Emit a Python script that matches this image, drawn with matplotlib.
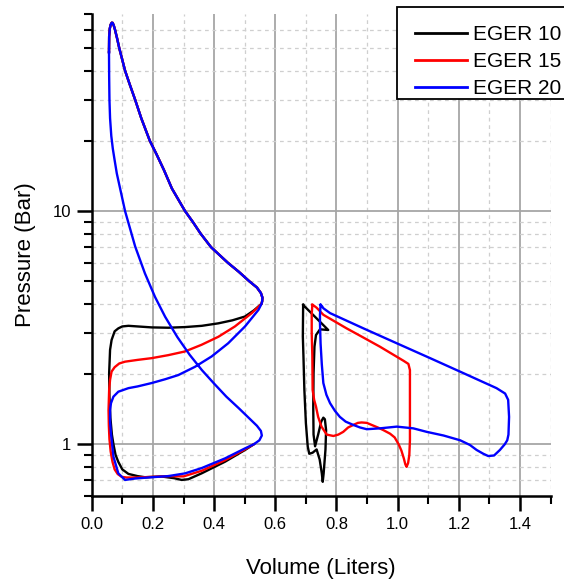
import matplotlib
matplotlib.use('Agg')
import matplotlib.pyplot as plt
from matplotlib.patches import Rectangle
from matplotlib.ticker import FixedLocator, FixedFormatter, NullFormatter, MultipleLocator

plt.rcParams['font.family'] = ['Liberation Sans', 'DejaVu Sans']

# ---------------- data (Volume in liters, Pressure in bar) ----------------
series_labels = ["EGER 10", "EGER 15", "EGER 20"]
series_colors = ["#000000", "#ff0000", "#0000ff"]

# shared expansion stroke (top of compression wall -> peak -> nose)
expansion_v = [0.0565, 0.057, 0.059, 0.062, 0.0655, 0.0685, 0.072, 0.076, 0.083, 0.090, 0.099,
               0.109, 0.124, 0.142, 0.162, 0.190, 0.212, 0.236, 0.262, 0.305, 0.330, 0.356,
               0.390, 0.445, 0.480, 0.515, 0.540, 0.553, 0.558, 0.557, 0.555]
expansion_p = [48, 56, 60.5, 63, 64.2, 64.1, 62.5, 60, 55, 50, 45,
               40, 35, 30, 25, 20, 17.5, 15, 12.5, 10, 9, 8,
               7, 6, 5.5, 5.0, 4.7, 4.45, 4.25, 4.1, 4.0]

# EGER 10 : left chamber return path
black_left_v = [0.555, 0.530, 0.501, 0.460, 0.414, 0.360, 0.305, 0.250, 0.196, 0.150, 0.120,
                0.100, 0.087, 0.075, 0.065, 0.060, 0.057, 0.058, 0.061, 0.066, 0.071, 0.078,
                0.087, 0.100, 0.120, 0.150, 0.174, 0.229, 0.270, 0.294, 0.316, 0.359, 0.436,
                0.501, 0.530]
black_left_p = [4.0, 3.75, 3.53, 3.4, 3.3, 3.22, 3.18, 3.16, 3.17, 3.2, 3.22,
                3.2, 3.14, 3.05, 2.8, 2.54, 2.02, 1.6, 1.3, 1.1, 1.0, 0.9,
                0.84, 0.78, 0.746, 0.73, 0.722, 0.727, 0.715, 0.703, 0.708, 0.75, 0.842,
                0.945, 1.0]

# EGER 15 : left chamber return path
red_left_v = [0.555, 0.523, 0.468, 0.414, 0.359, 0.305, 0.250, 0.196, 0.150, 0.109, 0.090,
              0.075, 0.065, 0.060, 0.057, 0.055, 0.056, 0.058, 0.062, 0.068, 0.075, 0.085,
              0.098, 0.114, 0.150, 0.200, 0.250, 0.300, 0.360, 0.436, 0.500, 0.530]
red_left_p = [4.0, 3.65, 3.2, 2.89, 2.67, 2.5, 2.41, 2.34, 2.3, 2.26, 2.22,
              2.14, 2.05, 1.89, 1.71, 1.4, 1.2, 1.05, 0.93, 0.84, 0.78, 0.745,
              0.725, 0.72, 0.72, 0.725, 0.73, 0.728, 0.77, 0.855, 0.95, 1.0]

# EGER 20 : left chamber return path (closes back up the wall)
blue_left_v = [0.555, 0.545, 0.501, 0.446, 0.392, 0.338, 0.283, 0.240, 0.196, 0.150, 0.120,
               0.087, 0.071, 0.063, 0.060, 0.060, 0.063, 0.071, 0.087, 0.109, 0.142, 0.196,
               0.250, 0.305, 0.359, 0.436, 0.501, 0.530, 0.548, 0.556, 0.553, 0.540, 0.510,
               0.480, 0.440, 0.400, 0.360, 0.320, 0.280, 0.240, 0.207, 0.174, 0.142, 0.109,
               0.082, 0.075, 0.069, 0.064, 0.060, 0.058, 0.057, 0.0565]
blue_left_p = [4.0, 3.77, 3.2, 2.71, 2.38, 2.15, 1.98, 1.9, 1.83, 1.77, 1.74,
               1.68, 1.6, 1.5, 1.4, 1.25, 1.11, 0.885, 0.75, 0.703, 0.713, 0.722,
               0.73, 0.75, 0.79, 0.87, 0.96, 1.0, 1.04, 1.09, 1.14, 1.2, 1.31,
               1.43, 1.6, 1.82, 2.08, 2.42, 2.88, 3.52, 4.28, 5.4, 7.05, 10,
               14.5, 16.5, 18.5, 21, 25, 30, 38, 48]

# right chamber loops
black_right_v = [0.691, 0.700, 0.773, 0.746, 0.733, 0.728, 0.725, 0.724, 0.725, 0.730, 0.740,
                 0.750, 0.757, 0.762, 0.766, 0.764, 0.758, 0.755, 0.752, 0.745, 0.735, 0.722,
                 0.711, 0.706, 0.700, 0.695, 0.692, 0.690, 0.691]
black_right_p = [3.96, 3.85, 3.09, 3.11, 2.94, 2.62, 2.02, 1.45, 1.1, 0.98, 1.1,
                 1.25, 1.3, 1.28, 1.15, 0.95, 0.75, 0.69, 0.75, 0.86, 0.95, 0.92,
                 0.91, 0.977, 1.23, 1.71, 2.38, 2.9, 3.96]

red_right_v = [0.721, 0.719, 0.719, 0.721, 0.722, 0.727, 0.733, 0.740, 0.751, 0.768, 0.790,
               0.806, 0.822, 0.838, 0.855, 0.870, 0.882, 0.899, 0.915, 0.935, 0.953, 0.975,
               0.990, 1.003, 1.012, 1.020, 1.025, 1.029, 1.034, 1.038, 1.040, 1.040, 1.040,
               1.040, 1.035, 1.019, 0.942, 0.877, 0.833, 0.757, 0.735, 0.726, 0.721]
red_right_p = [3.96, 3.6, 3.0, 2.4, 1.71, 1.55, 1.45, 1.31, 1.19, 1.10, 1.085,
               1.10, 1.13, 1.18, 1.21, 1.235, 1.24, 1.235, 1.21, 1.18, 1.15, 1.11,
               1.07, 1.0, 0.94, 0.87, 0.82, 0.80, 0.83, 0.9, 1.04, 1.45, 1.8,
               2.08, 2.21, 2.28, 2.62, 2.92, 3.14, 3.59, 3.85, 3.93, 3.96]

blue_right_v = [0.748, 0.746, 0.746, 0.748, 0.752, 0.757, 0.767, 0.779, 0.795, 0.811, 0.830,
                0.855, 0.877, 0.899, 0.942, 0.997, 1.051, 1.095, 1.150, 1.204, 1.236, 1.258,
                1.280, 1.296, 1.315, 1.334, 1.350, 1.358, 1.362, 1.364, 1.361, 1.351, 1.323,
                1.214, 1.106, 0.997, 0.888, 0.779, 0.757, 0.752, 0.748]
blue_right_p = [3.96, 3.6, 3.3, 2.7, 2.2, 1.83, 1.63, 1.50, 1.39, 1.31, 1.25,
                1.21, 1.18, 1.16, 1.17, 1.19, 1.17, 1.13, 1.09, 1.04, 0.993, 0.945,
                0.91, 0.89, 0.895, 0.945, 1.0, 1.04, 1.1, 1.31, 1.55, 1.65, 1.74,
                2.02, 2.34, 2.71, 3.14, 3.65, 3.83, 3.92, 3.96]

x_major = [0.0, 0.2, 0.4, 0.6, 0.8, 1.0, 1.2, 1.4]
x_labels = ["0.0", "0.2", "0.4", "0.6", "0.8", "1.0", "1.2", "1.4"]
y_major = [1, 10]
y_labels = ["1", "10"]
y_minor = [0.6, 0.7, 0.8, 0.9, 2, 3, 4, 5, 6, 7, 8, 9, 20, 30, 40, 50, 60, 70]

# ---------------- figure ----------------
W, H = 564, 582
fig = plt.figure(figsize=(W / 100, H / 100), dpi=100)
ax = fig.add_axes([0.1626, 0.1478, 0.8138, 0.8282])
ax.set_yscale('log')
ax.set_xlim(0, 1.5)
ax.set_ylim(0.6, 70)

# grid
for xv in [0.1, 0.3, 0.5, 0.7, 0.9, 1.1, 1.3, 1.5]:
    ax.axvline(xv, color='#cfcfcf', lw=0.9, ls=(0, (3, 3)), zorder=0)
for xv in x_major[1:]:
    ax.axvline(xv, color='#a6a6a6', lw=1.3, zorder=0)
for yv in [0.7, 0.8, 0.9, 2, 3, 4, 5, 6, 7, 8, 9, 20, 30, 40, 50, 60]:
    ax.axhline(yv, color='#cfcfcf', lw=0.9, ls=(0, (3, 3)), zorder=0)
for yv in y_major:
    ax.axhline(yv, color='#a6a6a6', lw=1.3, zorder=0)

lw = 1.7
c_k, c_r, c_b = series_colors
h_k, = ax.plot(expansion_v + black_left_v, expansion_p + black_left_p, color=c_k, lw=lw,
               zorder=3, solid_joinstyle='round')
ax.plot(black_right_v, black_right_p, color=c_k, lw=lw, zorder=3, solid_joinstyle='round')
h_r, = ax.plot(expansion_v + red_left_v, expansion_p + red_left_p, color=c_r, lw=lw,
               zorder=4, solid_joinstyle='round')
ax.plot(red_right_v, red_right_p, color=c_r, lw=lw, zorder=4, solid_joinstyle='round')
h_b, = ax.plot(expansion_v + blue_left_v, expansion_p + blue_left_p, color=c_b, lw=lw,
               zorder=5, solid_joinstyle='round')
ax.plot(blue_right_v, blue_right_p, color=c_b, lw=lw, zorder=5, solid_joinstyle='round')

# axes styling
for s in ['top', 'right']:
    ax.spines[s].set_visible(False)
for s in ['left', 'bottom']:
    ax.spines[s].set_linewidth(1.8)
ax.xaxis.set_major_locator(FixedLocator(x_major))
ax.xaxis.set_major_formatter(FixedFormatter(x_labels))
ax.xaxis.set_minor_locator(MultipleLocator(0.1))
ax.yaxis.set_major_locator(FixedLocator(y_major))
ax.yaxis.set_major_formatter(FixedFormatter(y_labels))
ax.yaxis.set_minor_locator(FixedLocator(y_minor))
ax.yaxis.set_minor_formatter(NullFormatter())
ax.tick_params(which='major', direction='out', length=11, width=1.8, labelsize=12, pad=4)
ax.tick_params(which='minor', direction='out', length=6, width=1.5)

ax.set_xlabel('Volume (Liters)', fontsize=16, labelpad=19)
ax.set_ylabel('Pressure (Bar)', fontsize=16, labelpad=12)

# legend: frame drawn separately so it runs off the right edge like the original
frame = Rectangle((397.3 / W, 1 - 99.3 / H), 300 / W, 92 / H,
                  transform=fig.transFigure, facecolor='white',
                  edgecolor='black', lw=1.3, zorder=10, clip_on=False)
ax.add_patch(frame)
leg = ax.legend([h_k, h_r, h_b], series_labels, loc='upper left',
                bbox_to_anchor=(415 / W, 1 - 25 / H),
                bbox_transform=fig.transFigure, fontsize=15, frameon=False,
                borderaxespad=0, borderpad=0, handlelength=2.49, handletextpad=0.29,
                labelspacing=0.38)
leg.set_zorder(11)
for line in leg.get_lines():
    line.set_linewidth(2)

fig.savefig('out.png', dpi=100)
